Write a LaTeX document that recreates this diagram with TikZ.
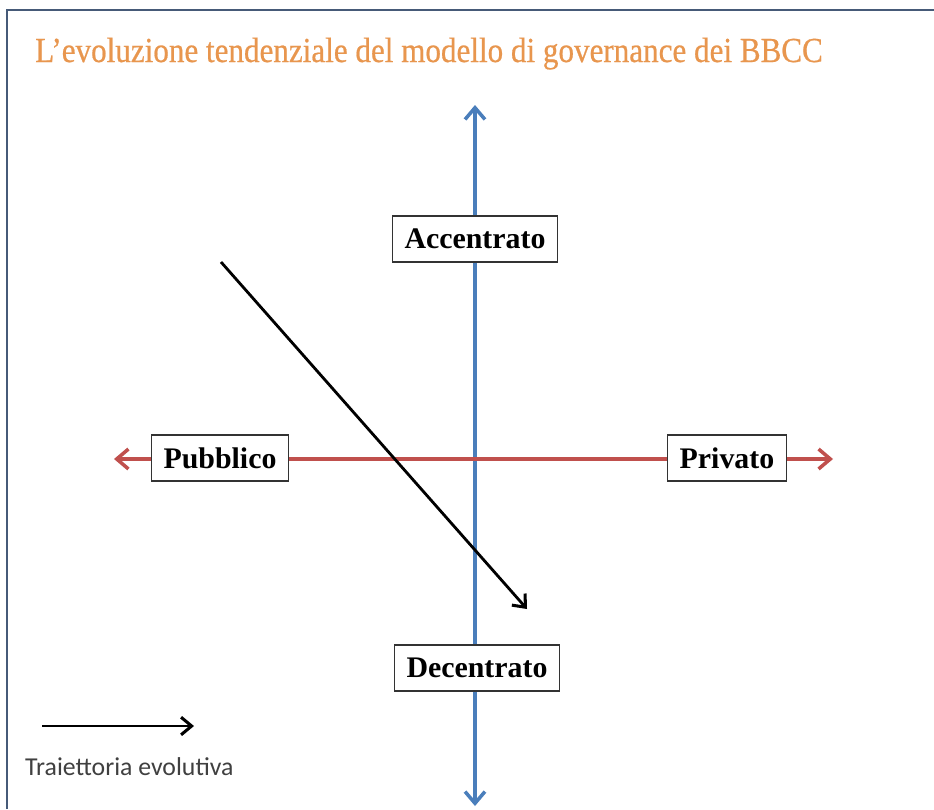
\documentclass[tikz,border=0pt]{standalone}
\usepackage{fontspec}
\setmainfont{Liberation Serif}
\newfontface\titlefont[FakeBold=0.6]{Liberation Serif}
\newfontfamily\legendfont{Carlito}
\usepackage{xcolor}
\usepackage{tikz}
\usetikzlibrary{arrows.meta}
\definecolor{titleorange}{RGB}{232,150,78}
\definecolor{axisblue}{RGB}{74,126,187}
\definecolor{axisred}{RGB}{192,80,77}
\definecolor{framegray}{RGB}{70,90,120}

\begin{document}
\begin{tikzpicture}[x=0.03cm, y=-0.03cm,
  axislabel/.style={rectangle, draw=black!80, line width=1pt, fill=white,
    font=\bfseries\fontsize{25.5}{27}\selectfont, inner xsep=10.5pt, minimum height=1.38cm},
  tip/.style={-{Straight Barb[length=9pt, width=15pt, line width=2.6pt]}},
  tipboth/.style={{Straight Barb[length=10pt, width=17pt, line width=3pt]}-{Straight Barb[length=10pt, width=17pt, line width=3pt]}}]
\useasboundingbox (0,0) rectangle (934,809);
\fill[white] (0,0) rectangle (934,809);
\draw[framegray, line width=2.5pt] (7,809) -- (7,10) -- (934,10);
\node[anchor=base west, text=titleorange, inner sep=0pt] (title) at (35,62)
  {\scalebox{0.885}[1]{\titlefont\fontsize{30}{32}\selectfont L’evoluzione tendenziale del modello di governance dei BBCC}};
\coordinate (top) at (475,105);
\coordinate (bottom) at (475,806);
\coordinate (left) at (114,459);
\coordinate (right) at (833,459);
\draw[tipboth, axisblue, line width=3.4pt] (bottom) -- (top);
\draw[tipboth, axisred, line width=3.4pt] (left) -- (right);
\node[axislabel] (accentrato) at (475,239) {Accentrato};
\node[axislabel] (decentrato) at (477,668) {Decentrato};
\node[axislabel] (pubblico) at (220,458) {Pubblico};
\node[axislabel] (privato) at (727,458) {Privato};
\coordinate (start) at (221,262);
\coordinate (end) at (527,609);
\draw[tip, line width=2.4pt] (start) -- (end);
\coordinate (legstart) at (42,726);
\coordinate (legend) at (194,726);
\draw[tip, line width=2.4pt] (legstart) -- (legend);
\node[anchor=base west, inner sep=0pt, text=black!75, font=\legendfont\fontsize{22}{24}\selectfont] (traiettoria) at (25,775) {Traiettoria evolutiva};
\end{tikzpicture}
\end{document}
